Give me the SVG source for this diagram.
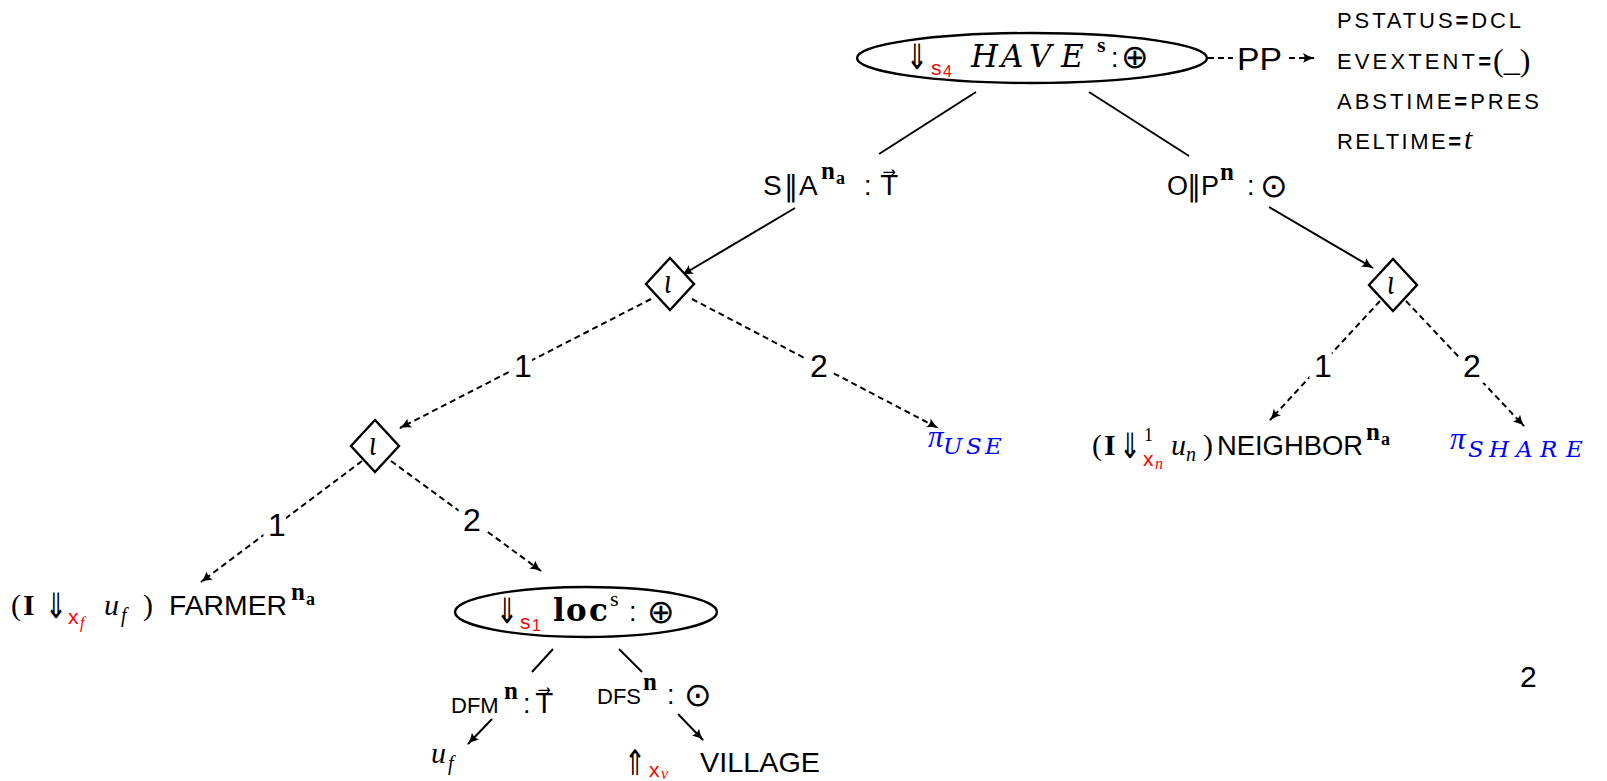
<svg xmlns="http://www.w3.org/2000/svg" width="1607" height="781" viewBox="0 0 1607 781">
  <style>
    .sf { font-family: "Liberation Sans", Arial, sans-serif; fill: #000; }
    .sc { font-family: "Liberation Sans", Arial, sans-serif; font-size: 22px; fill: #000; }
    .mi { font-family: "Liberation Serif", "Times New Roman", serif; font-style: italic; fill: #000; }
    .mc { font-family: "DejaVu Serif", "Liberation Serif", serif; font-style: italic; fill: #000; }
    .mr { font-family: "Liberation Serif", "Times New Roman", serif; fill: #000; }
    .mb { font-family: "Liberation Serif", "Times New Roman", serif; font-weight: bold; fill: #000; }
    .mbx { font-family: "DejaVu Serif", "Liberation Serif", serif; font-weight: bold; fill: #000; }
    .sym { font-family: "DejaVu Sans", sans-serif; fill: #000; }
    .red { fill: #ff0000; }
    .blue { fill: #0000ff; }
    .lbl { font-family: "Liberation Sans", Arial, sans-serif; font-size: 32px; text-anchor: middle; fill: #000;
           stroke: #fff; stroke-width: 14px; paint-order: stroke fill; stroke-linejoin: round; }
    .node-shape { fill: #fff; stroke: #000; stroke-width: 2.4; }
    .solid { fill: none; stroke: #000; stroke-width: 2; }
    .dash { fill: none; stroke: #000; stroke-width: 2; stroke-dasharray: 6 4; }
    .arr { marker-end: url(#tip); }
  </style>
  <defs>
    <marker id="tip" viewBox="0 0 12 10" refX="11" refY="5" markerWidth="12" markerHeight="10"
            markerUnits="userSpaceOnUse" orient="auto">
      <path d="M0,0 Q6,4 12,5 Q6,6 0,10 Q3,5 0,0 Z" fill="#000"/>
    </marker>
  </defs>

  <rect width="1607" height="781" fill="#fff"/>

  <!-- connectors -->
  <g id="connectors">
    <path class="solid" d="M976,92 L879,154"/>
    <path class="solid" d="M1089,92 L1189,156"/>
    <path class="solid arr" d="M795,208 L682,275"/>
    <path class="solid arr" d="M1269,207 L1373,268"/>
    <path class="solid" d="M553,649 L532,672"/>
    <path class="solid" d="M619,649 L642,672"/>
    <path class="solid arr" d="M492,719 L468,744"/>
    <path class="solid arr" d="M678,714 L703,740"/>

    <path class="dash" d="M1208,58 L1233,58" stroke-dasharray="4 3"/>
    <path class="dash arr" d="M1289,58 L1314,58" stroke-dasharray="4 3"/>
    <path class="dash arr" d="M651,299 L400,428"/>
    <path class="dash arr" d="M692,299 L938,428"/>
    <path class="dash arr" d="M1380,301 L1270,420"/>
    <path class="dash arr" d="M1406,301 L1524,426"/>
    <path class="dash arr" d="M362,461 L201,582"/>
    <path class="dash arr" d="M391,461 L541,571"/>

    <!-- branch numbers -->
    <text class="lbl" x="523" y="377">1</text>
    <text class="lbl" x="819" y="377">2</text>
    <text class="lbl" x="1323" y="377">1</text>
    <text class="lbl" x="1472" y="377">2</text>
    <text class="lbl" x="277" y="536">1</text>
    <text class="lbl" x="472" y="531">2</text>
  </g>

  <!-- root event node -->
  <g id="have">
    <ellipse class="node-shape" cx="1032" cy="58" rx="175" ry="25"/>
    <text class="sym" font-size="26" transform="translate(906,69) scale(1,1.35)">⇓</text>
    <text class="sf red" x="931" y="75" font-size="21">s</text>
    <text class="sf red" x="943" y="77" font-size="16">4</text>
    <text class="mc" x="971 1001 1029 1061" y="67" font-size="31">HAVE</text>
    <text class="mb" x="1097" y="52" font-size="22">s</text>
    <text class="sf" x="1111" y="67" font-size="27">:</text>
    <text class="sym" x="1121" y="68" font-size="33">⊕</text>
  </g>

  <g id="pp">
    <text class="sf" x="1237" y="70" font-size="32" textLength="45" lengthAdjust="spacingAndGlyphs">PP</text>
  </g>

  <g id="props">
    <text class="sc" x="1337" y="28" textLength="184">PSTATUS<tspan font-weight="bold">=</tspan>DCL</text>
    <text class="sc" x="1337" y="69" textLength="154">EVEXTENT<tspan font-weight="bold">=</tspan></text>
    <text class="mr" x="1493" y="71" font-size="32">(_)</text>
    <text class="sc" x="1337" y="109" textLength="202">ABSTIME<tspan font-weight="bold">=</tspan>PRES</text>
    <text class="sc" x="1337" y="149" textLength="124">RELTIME<tspan font-weight="bold">=</tspan></text>
    <text class="mi" x="1464" y="149" font-size="30">t</text>
  </g>

  <!-- subject / agent role -->
  <g id="subj">
    <text class="sf" x="763" y="195" font-size="28">S</text>
    <text class="sym" x="784" y="196" font-size="28">‖</text>
    <text class="sf" x="799" y="195" font-size="28">A</text>
    <text class="mb" x="821" y="179" font-size="25">n</text>
    <text class="mb" x="836" y="184" font-size="18">a</text>
    <text class="sf" x="864" y="195" font-size="27">:</text>
    <text class="sym" x="881" y="195" font-size="27">T⃗</text>
  </g>

  <!-- object / patient role -->
  <g id="obj">
    <text class="sf" x="1167" y="195" font-size="27">O</text>
    <text class="sym" x="1187" y="196" font-size="28">‖</text>
    <text class="sf" x="1201" y="195" font-size="27">P</text>
    <text class="mb" x="1220" y="180" font-size="25">n</text>
    <text class="sf" x="1247" y="195" font-size="27">:</text>
    <text class="sym" x="1260" y="197" font-size="33">⊙</text>
  </g>

  <!-- choice points -->
  <g id="choice1">
    <polygon class="node-shape" points="670,258 694,284 670,310 646,284"/>
    <text class="mi" font-size="28" text-anchor="middle" transform="translate(668,293) scale(1,1.3)">ι</text>
  </g>
  <g id="choice2">
    <polygon class="node-shape" points="1393,259 1417,285 1393,311 1369,285"/>
    <text class="mi" font-size="28" text-anchor="middle" transform="translate(1391,294) scale(1,1.3)">ι</text>
  </g>
  <g id="choice3">
    <polygon class="node-shape" points="375,420 399,446 375,472 351,446"/>
    <text class="mi" font-size="28" text-anchor="middle" transform="translate(373,455) scale(1,1.3)">ι</text>
  </g>

  <g id="use">
    <text class="mi blue" x="928" y="447" font-size="31">π</text>
    <text class="mc blue" x="943 966 985" y="454" font-size="23">USE</text>
  </g>

  <g id="neighbor">
    <text class="mr" x="1092" y="455" font-size="30">(</text>
    <text class="mb" x="1104" y="455" font-size="30">I</text>
    <text class="sym" font-size="26" transform="translate(1119,458) scale(1,1.35)">⇓</text>
    <text class="mr" x="1144" y="441" font-size="18">1</text>
    <text class="sf red" x="1143" y="466" font-size="21">x</text>
    <text class="mi red" x="1155" y="469" font-size="16">n</text>
    <text class="mi" x="1171" y="455" font-size="30">u</text>
    <text class="mi" x="1186" y="461" font-size="20">n</text>
    <text class="mr" x="1203" y="455" font-size="30">)</text>
    <text class="sf" x="1217" y="455" font-size="27" textLength="146" lengthAdjust="spacingAndGlyphs">NEIGHBOR</text>
    <text class="mb" x="1366" y="440" font-size="25">n</text>
    <text class="mb" x="1381" y="445" font-size="18">a</text>
  </g>

  <g id="share">
    <text class="mi blue" x="1450" y="449" font-size="31">π</text>
    <text class="mc blue" x="1468 1489 1516 1540 1566" y="457" font-size="23">SHARE</text>
  </g>

  <g id="farmer">
    <text class="mr" x="11" y="615" font-size="30">(</text>
    <text class="mb" x="23" y="615" font-size="30">I</text>
    <text class="sym" font-size="26" transform="translate(45,618) scale(1,1.35)">⇓</text>
    <text class="sf red" x="68" y="624" font-size="21">x</text>
    <text class="mi red" x="80" y="628" font-size="16">f</text>
    <text class="mi" x="104" y="615" font-size="30">u</text>
    <text class="mi" x="121" y="622" font-size="20">f</text>
    <text class="mr" x="143" y="615" font-size="30">)</text>
    <text class="sf" x="169" y="615" font-size="27" textLength="118" lengthAdjust="spacingAndGlyphs">FARMER</text>
    <text class="mb" x="291" y="600" font-size="25">n</text>
    <text class="mb" x="306" y="605" font-size="18">a</text>
  </g>

  <!-- location state node -->
  <g id="loc">
    <ellipse class="node-shape" cx="586" cy="612" rx="131" ry="25"/>
    <text class="sym" font-size="26" transform="translate(496,623) scale(1,1.35)">⇓</text>
    <text class="sf red" x="520" y="629" font-size="21">s</text>
    <text class="sf red" x="532" y="631" font-size="16">1</text>
    <text class="mbx" x="553 566 589" y="621" font-size="31">loc</text>
    <text class="mr" x="610" y="606" font-size="22">s</text>
    <text class="sf" x="629" y="621" font-size="27">:</text>
    <text class="sym" x="647" y="623" font-size="33">⊕</text>
  </g>

  <g id="dfm">
    <text class="sc" x="451" y="713">DFM</text>
    <text class="mb" x="504" y="699" font-size="25">n</text>
    <text class="sf" x="523" y="713" font-size="27">:</text>
    <text class="sym" x="536" y="713" font-size="27">T⃗</text>
  </g>

  <g id="dfs">
    <text class="sc" x="597" y="704">DFS</text>
    <text class="mb" x="643" y="690" font-size="25">n</text>
    <text class="sf" x="667" y="704" font-size="27">:</text>
    <text class="sym" x="684" y="706" font-size="33">⊙</text>
  </g>

  <g id="uf">
    <text class="mi" x="431" y="763" font-size="30">u</text>
    <text class="mi" x="448" y="770" font-size="20">f</text>
  </g>

  <g id="village">
    <text class="sym" font-size="26" transform="translate(624,775) scale(1,1.35)">⇑</text>
    <text class="sf red" x="649" y="777" font-size="21">x</text>
    <text class="mi red" x="661" y="779" font-size="16">v</text>
    <text class="sf" x="700" y="772" font-size="28" textLength="120" lengthAdjust="spacingAndGlyphs">VILLAGE</text>
  </g>

  <g id="page">
    <text class="sf" x="1520" y="687" font-size="30">2</text>
  </g>
</svg>
